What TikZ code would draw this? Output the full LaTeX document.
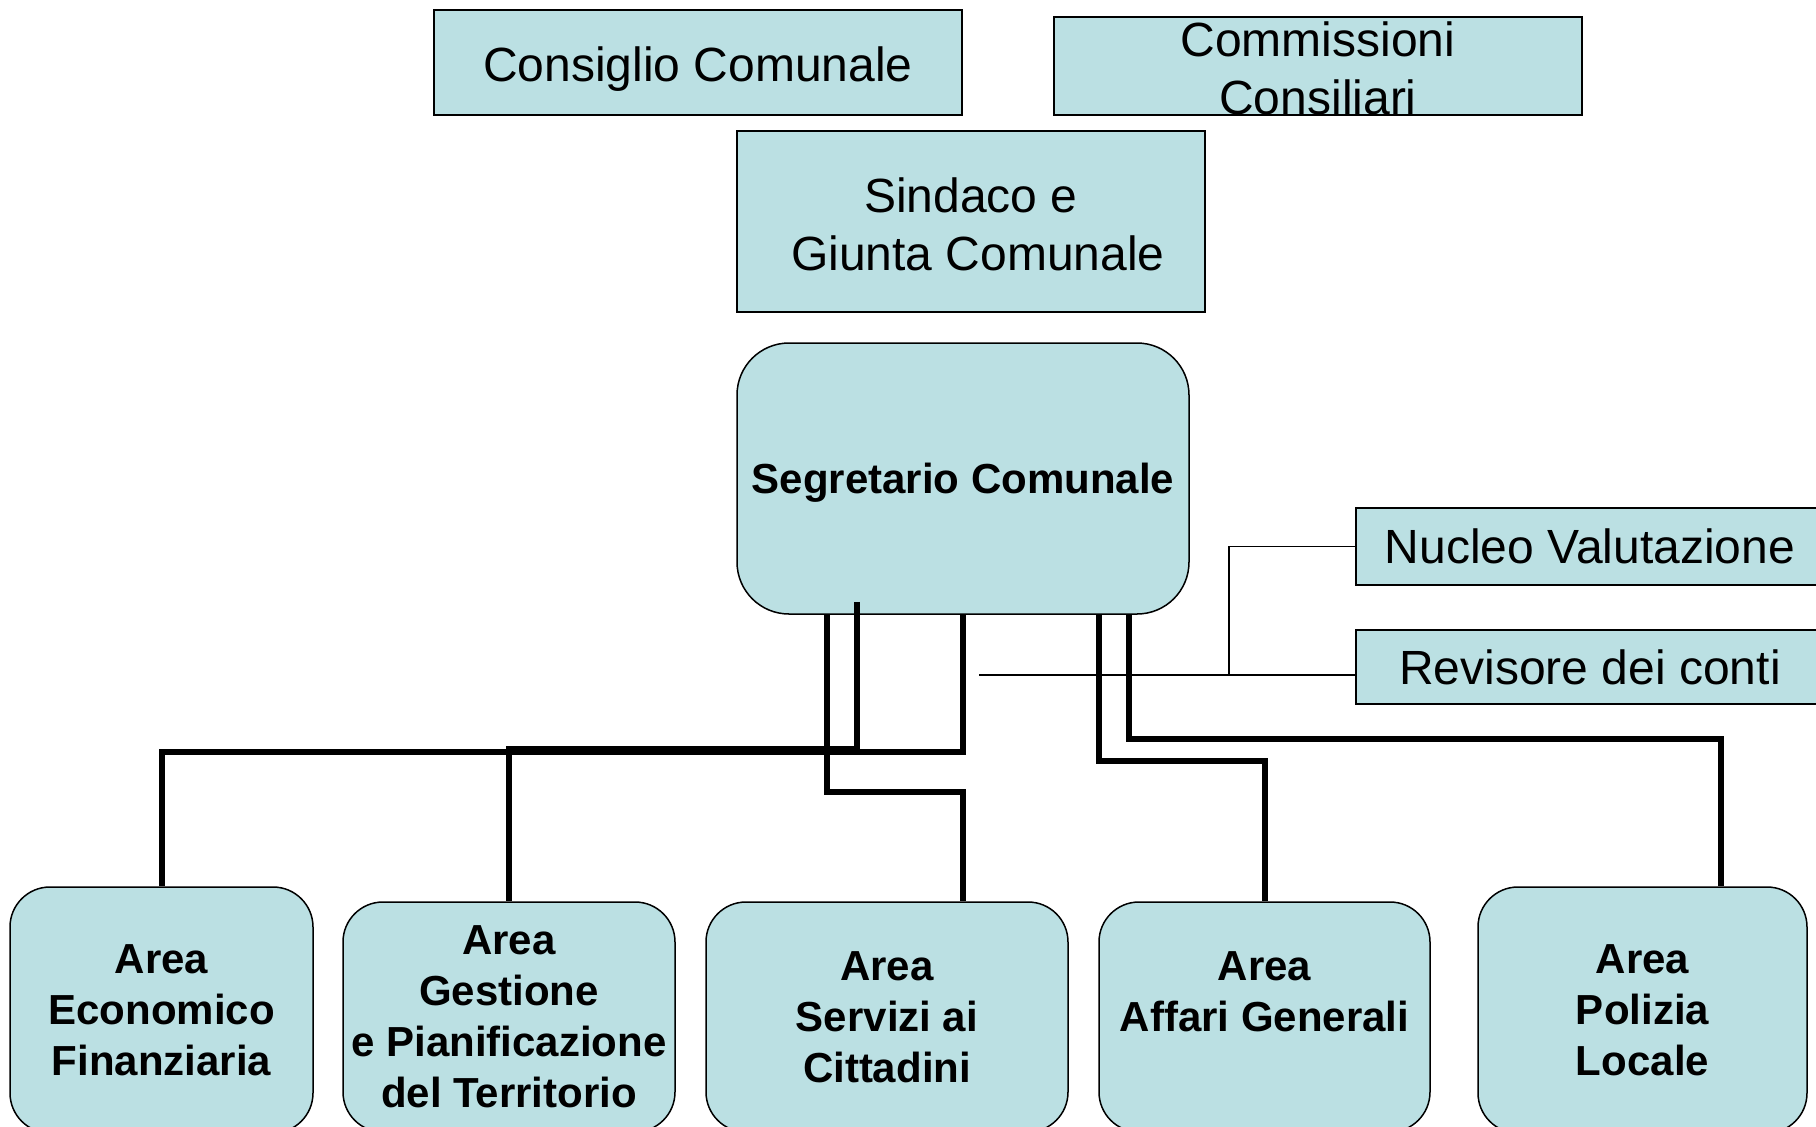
\documentclass[tikz,border=0pt]{standalone}
\usepackage{fontspec}
\setmainfont{Liberation Sans}
\definecolor{boxfill}{RGB}{187,224,227}
\newcommand\shiftdown[2]{\raisebox{-#1}[\height][\depth]{#2}}
\begin{document}
\begin{tikzpicture}[x=0.5pt,y=-0.5pt,
  box/.style={draw=black, line width=0.75pt, fill=boxfill, align=center, inner sep=0pt,
              font=\fontsize{24}{29}\selectfont},
  rbox/.style={box, rounded corners=20pt, font=\bfseries\fontsize{21}{25.5}\selectfont},
  conn/.style={draw=black, line width=3pt},
  thinl/.style={draw=black, line width=0.75pt}]
\useasboundingbox (0,0) rectangle (1816,1126);
\clip (0,0) rectangle (1816,1126);
\fill[white] (0,0) rectangle (1816,1126);

% top boxes
\node[box, minimum width=264pt, minimum height=52.5pt] (cons) at (698,62.5) {\shiftdown{3.5pt}{Consiglio Comunale}};
\node[box, minimum width=264pt, minimum height=49pt] (comm) at (1318,66) {\shiftdown{1.2pt}{Commissioni}\\\shiftdown{1.2pt}{Consiliari}};
\node[box, minimum width=234pt, minimum height=90.5pt] (sind) at (971,221.5) {\shiftdown{1.2pt}{Sindaco e}\\\hspace*{7pt}\shiftdown{1.2pt}{Giunta Comunale}};
\node[rbox, rounded corners=26pt, minimum width=226pt, minimum height=135.5pt] (seg) at (963,478.5) {\shiftdown{2.3pt}{Segretario Comunale}};

% side boxes
\node[box, minimum width=234pt, minimum height=38.5pt] (nuc) at (1590,546.5) {Nucleo Valutazione};
\node[box, minimum width=234pt, minimum height=37pt] (rev) at (1590,667) {Revisore dei conti};

% bottom boxes
\node[rbox, minimum width=151.5pt, minimum height=123pt] (eco) at (161.5,1010) {Area\\Economico\\Finanziaria};
\node[rbox, minimum width=166pt, minimum height=115pt] (gest) at (509,1017) {Area\\Gestione\\e Pianificazione\\del Territorio};
\node[rbox, minimum width=181pt, minimum height=115pt] (serv) at (887,1017) {Area\\Servizi ai\\Cittadini};
\node[rbox, minimum width=165.5pt, minimum height=115pt] (aff) at (1264.5,1017) {Area\\Affari Generali\\\mbox{}};
\node[rbox, minimum width=164.5pt, minimum height=123pt] (pol) at (1642.5,1010) {Area\\Polizia\\Locale};

% thin connectors to staff boxes
\coordinate (tl) at (979,675);
\coordinate (tj) at (1229,675);
\draw[thinl] (tl) -- (tl -| rev.west);
\draw[thinl] (tj) |- (nuc.west);

% thick connectors
\draw[conn] (seg.south) -- ++(0,137) -| (eco.north);
\draw[conn] ([xshift=-53pt,yshift=6.5pt]seg.south) -- ++(0,147) -| (gest.north);
\draw[conn] ([xshift=-68pt]seg.south) -- ++(0,177) -| (seg.south |- serv.north);
\draw[conn] ([xshift=68pt]seg.south) -- ++(0,146) -| (aff.north);
\draw[conn] ([xshift=83pt]seg.south) -- ++(0,124) -| ([xshift=39pt]pol.north);
\end{tikzpicture}
\end{document}
